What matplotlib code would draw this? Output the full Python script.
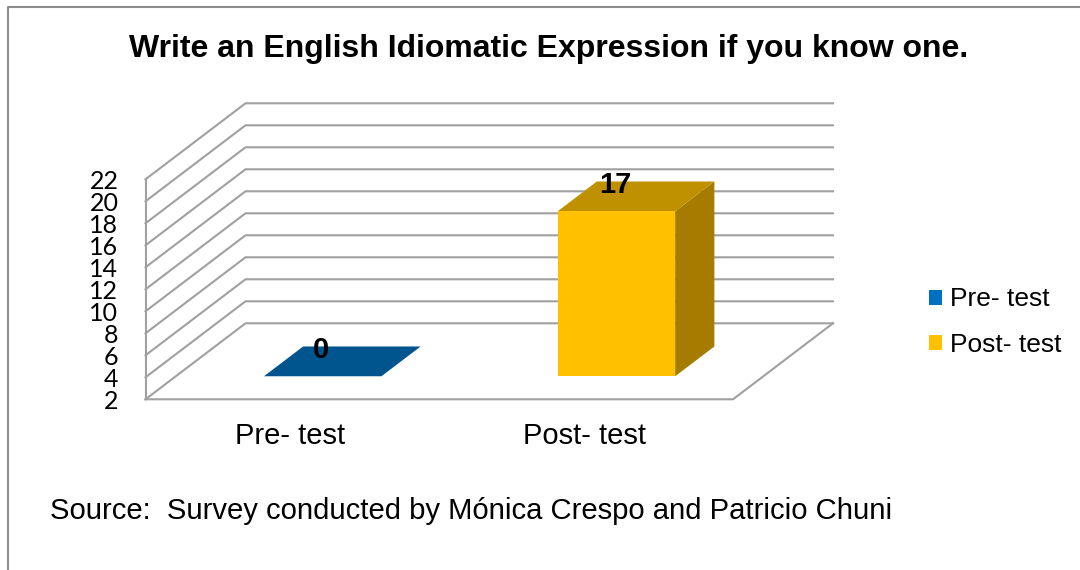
import matplotlib
matplotlib.use("Agg")
import matplotlib.pyplot as plt
from matplotlib.lines import Line2D
from matplotlib.patches import Patch, Polygon
from matplotlib.transforms import ScaledTranslation

categories = ["Pre- test", "Post- test"]
values = [0, 17]
y_ticks = [2, 4, 6, 8, 10, 12, 14, 16, 18, 20, 22]
title = "Write an English Idiomatic Expression if you know one."
source = "Source:  Survey conducted by Mónica Crespo and Patricio Chuni"

front_colors = ["#0070C0", "#FFC000"]
top_colors = ["#00558F", "#BF9000"]
side_colors = ["#004B80", "#A57C00"]
grid_color = "#A0A0A0"

W, H = 1080, 570
plt.rcParams["font.family"] = ["Liberation Sans", "DejaVu Sans"]

# oblique depth of the box, in data units (100 px across, 76 px up)
DEPTH_X = 100 / 293.75
DEPTH_Y = 76 / 11
BAR_WIDTH = 0.4
BAR_DEPTH_START = 0.303
BAR_DEPTH_END = 0.695


def project(x, y, depth):
    return x + depth * DEPTH_X, y + depth * DEPTH_Y


def draw_box(ax):
    x0, x1 = 0, len(categories)
    base = y_ticks[0]
    kw = dict(color=grid_color, lw=1.5, clip_on=False, solid_joinstyle="miter", zorder=1)
    for tick in y_ticks:
        bx, by = project(x0, tick, 1)
        ax.plot([x0, bx, project(x1, tick, 1)[0]], [tick, by, by], **kw)
    ax.plot([x0, x0], [base, y_ticks[-1]], **kw)
    bx, by = project(x1, base, 1)
    ax.plot([x0, x1, bx], [base, base, by], **kw)


def draw_bar(ax, i, value):
    base = y_ticks[0]
    top = max(value, base)
    left, right = i + 0.5 - BAR_WIDTH / 2, i + 0.5 + BAR_WIDTH / 2

    def pt(x, y, depth):
        return project(x, y, depth)

    d0, d1 = BAR_DEPTH_START, BAR_DEPTH_END
    faces = [
        ([pt(right, base, d0), pt(right, base, d1), pt(right, top, d1), pt(right, top, d0)], side_colors[i]),
        ([pt(left, top, d0), pt(right, top, d0), pt(right, top, d1), pt(left, top, d1)], top_colors[i]),
        ([pt(left, base, d0), pt(right, base, d0), pt(right, top, d0), pt(left, top, d0)], front_colors[i]),
    ]
    for verts, color in faces:
        ax.add_patch(Polygon(verts, closed=True, facecolor=color, edgecolor="none", clip_on=False, zorder=3))
    lx, ly = pt(i + 0.5, top, d0)
    ax.annotate(str(value), (lx, ly), xytext=(-1, 18.6), textcoords="offset points", ha="center", va="center",
                fontsize=21, fontweight="bold", color="black", zorder=5, annotation_clip=False)


fig = plt.figure(figsize=(W / 100, H / 100), dpi=100, facecolor="white")
ax = fig.add_axes([145.5 / W, (H - 399.3) / H, 587.5 / W, 220 / H])
ax.set_xlim(0, len(categories))
ax.set_ylim(y_ticks[0], y_ticks[-1])
ax.patch.set_visible(False)
for spine in ax.spines.values():
    spine.set_visible(False)

draw_box(ax)
for i, v in enumerate(values):
    draw_bar(ax, i, v)

ax.set_yticks(y_ticks)
ax.set_yticklabels([str(t) for t in y_ticks], fontfamily="Lato", fontsize=18, color="black")
ax.tick_params(axis="y", length=0, pad=19.5)
ax.set_xticks([i + 0.5 for i in range(len(categories))])
ax.set_xticklabels(categories, fontsize=21, color="black")
ax.tick_params(axis="x", length=0, pad=16)
for label in ax.get_xticklabels():
    label.set_transform(label.get_transform() + ScaledTranslation(-2 / 100, 0, fig.dpi_scale_trans))

fig.text(548.5 / W, 1 - 48.5 / H, title, ha="center", va="center", fontsize=23, fontweight="bold", color="black")
fig.text(50 / W, 1 - 511 / H, source, ha="left", va="center", fontsize=21.05, color="black")

handles = [Patch(facecolor=c, edgecolor="none") for c in front_colors]
fig.legend(handles, categories, loc="center left", bbox_to_anchor=(928.5 / W, 1 - 322 / H), frameon=False,
           fontsize=19, borderpad=0, borderaxespad=0, handlelength=0.5, handleheight=0.5,
           handletextpad=0.3, labelspacing=0.8)

# outer frame, only top and left show
fig.add_artist(Line2D([8 / W, 8 / W, 1], [0, 1 - 6.5 / H, 1 - 6.5 / H], color="#8C8C8C", lw=1.5))

fig.savefig("out.png", dpi=100)
